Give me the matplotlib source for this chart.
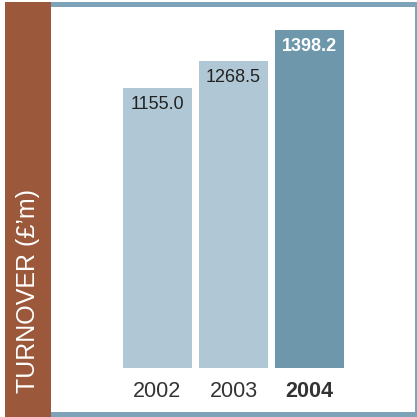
import matplotlib.pyplot as plt
from matplotlib.patches import Rectangle

# data
years = ["2002", "2003", "2004"]
turnover = [1155.0, 1268.5, 1398.2]
labels = ["1155.0", "1268.5", "1398.2"]
bar_colors = ["#b0c8d5", "#b0c8d5", "#6e97ab"]

W = H = 417
plt.rcParams['font.family'] = ['Liberation Sans', 'DejaVu Sans']

fig = plt.figure(figsize=(W / 100, H / 100), dpi=100)


def box(x0, y0, x1, y1):
    # pixel box (top-left origin) -> figure fraction rect
    return [x0 / W, 1 - y1 / H, (x1 - x0) / W, (y1 - y0) / H]


def rect(x0, y0, x1, y1, color):
    l, b, w, h = box(x0, y0, x1, y1)
    fig.patches.append(Rectangle((l, b), w, h, transform=fig.transFigure,
                                 facecolor=color, edgecolor='none', zorder=0))


# frame and side band
border = "#7ea2b7"
rect(51, 2, 417, 7, border)
rect(414.5, 2, 417, 417, border)
rect(51, 412, 417, 417, border)
rect(5, 2, 51, 417, "#9b583b")
fig.text(28 / W, 1 - 393 / H, "TURNOVER (£’m)", rotation=90, color="white",
         fontsize=18, ha='center', va='bottom')

# bars
ax = fig.add_axes(box(119.5, 20, 347.5, 368))
ax.set_xlim(-0.5, 2.5)
ax.set_ylim(0, 1438)
ax.axis('off')
x = range(len(years))
ax.bar(x, turnover, width=0.91, color=bar_colors)

for i, (v, lab) in enumerate(zip(turnover, labels)):
    last = i == len(years) - 1
    ax.annotate(lab, (i, v), xytext=(0, -8), textcoords='offset pixels',
                ha='center', va='top', fontsize=13,
                color='white' if last else '#222222',
                fontweight='bold' if last else 'normal')
    ax.annotate(years[i], (i, 0), xytext=(0, -13), textcoords='offset pixels',
                ha='center', va='top', fontsize=15.5, color='#333333',
                fontweight='bold' if last else 'normal')

fig.savefig("out.png", dpi=100)
